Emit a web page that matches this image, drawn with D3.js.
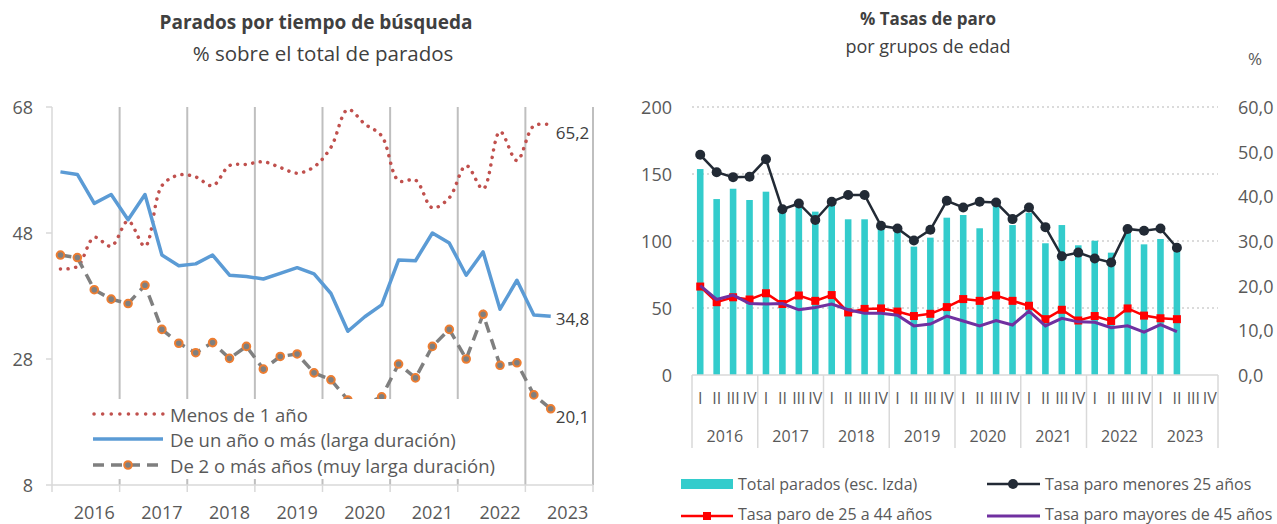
<!DOCTYPE html>
<html>
<head>
<meta charset="utf-8">
<script src="https://cdnjs.cloudflare.com/ajax/libs/d3/7.8.5/d3.min.js"></script>
<style>
  body { margin: 0; background: #fff; }
  svg text { font-family: "Open Sans", "Noto Sans", sans-serif; }
</style>
</head>
<body>
<svg id="chart" width="1277" height="524"></svg>
<script>
// ---- datos comunes ----
var years = [2016, 2017, 2018, 2019, 2020, 2021, 2022, 2023]
var quarterNames = ['I', 'II', 'III', 'IV']
var quarters = []
years.forEach(function(y){ quarterNames.forEach(function(q){ quarters.push(y + '-' + q) }) })
var dataQuarters = quarters.slice(0, 30)   // 2016-I .. 2023-II

// ---- grafico izquierdo: parados por tiempo de busqueda (%) ----
var leftTicks = [8, 28, 48, 68]
var menosUnAno = [42.3,42.7,47.3,45.9,49.9,45.9,55.5,57.2,56.9,55.5,58.7,58.9,59.3,58.4,57.5,58.5,
                  61.6,67.6,65.3,63.4,56.3,56.4,52.0,53.6,58.7,55.0,64.1,59.5,65.0,65.2]
var unAnoOMas = [57.7,57.3,52.7,54.1,50.1,54.1,44.5,42.8,43.1,44.5,41.3,41.1,40.7,41.6,42.5,41.5,
                 38.4,32.4,34.7,36.6,43.7,43.6,48.0,46.4,41.3,45.0,35.9,40.5,35.0,34.8]
var dosOMas = [44.5,44.1,39.0,37.5,36.8,39.7,32.7,30.5,29.0,30.6,28.1,30.0,26.4,28.4,28.8,25.8,
               24.7,21.5,20.8,22.0,27.2,25.0,30.0,32.7,28.0,35.1,27.0,27.4,22.3,20.1]

// ---- grafico derecho: tasas de paro por edad ----
var totalParados = [153.7,131.3,139.0,130.6,136.8,122.0,125.6,121.9,126.9,116.2,116.2,111.5,106.9,95.8,102.5,117.4,
                    119.4,109.5,126.4,111.9,121.1,98.3,111.9,96.8,100.2,91.3,108.2,97.5,101.5,92.0]
var menores25 = [49.3,45.4,44.3,44.4,48.3,37.1,38.4,34.7,38.8,40.3,40.3,33.4,32.8,30.1,32.5,39.0,
                 37.5,38.8,38.6,34.9,37.5,33.1,26.6,27.4,26.1,25.2,32.7,32.3,32.8,28.5]
var de25a44 = [19.8,16.3,17.4,16.9,18.3,15.9,17.8,16.6,17.9,14.0,14.8,14.9,14.2,13.2,13.7,15.2,
               17.0,16.6,17.8,16.6,15.5,12.5,14.6,12.2,13.2,12.1,14.9,13.3,12.7,12.5]
var mayores45 = [20.0,16.9,17.9,16.0,15.9,16.0,14.6,15.1,15.9,14.6,13.8,13.8,13.4,11.0,11.4,13.2,
                 12.1,11.0,12.2,11.2,14.3,11.0,12.7,11.9,11.8,10.6,11.0,9.6,11.3,9.7]
var leftAxisTicks = [0, 50, 100, 150, 200]
var rightAxisTicks = [0, 10, 20, 30, 40, 50, 60]

var svg = d3.select('#chart')
var dark = '#404040', grey = '#595959'
var coma = function(v){ return d3.format('.1f')(v).replace('.', ',') }

/* ================= IZQUIERDA ================= */
var xL = d3.scaleBand().domain(quarters).range([52, 593])
var yL = d3.scaleLinear().domain([8, 68]).range([485, 107])
var cx = function(d, i){ return xL(dataQuarters[i]) + xL.bandwidth() / 2 }

svg.append('text').attr('x', 316).attr('y', 22).attr('text-anchor', 'middle')
   .attr('dominant-baseline', 'central').attr('font-size', 19).attr('font-weight', 'bold')
   .attr('fill', dark).text('Parados por tiempo de búsqueda')
svg.append('text').attr('x', 323).attr('y', 53).attr('text-anchor', 'middle')
   .attr('dominant-baseline', 'central').attr('font-size', 20.5)
   .attr('fill', dark).text('% sobre el total de parados')

// lineas verticales de separacion de años
var boundaries = years.map(function(y){ return xL(y + '-I') }).slice(1).concat([593])
svg.selectAll('.vgrid').data(boundaries).enter().append('line')
   .attr('x1', function(d){ return d }).attr('x2', function(d){ return d })
   .attr('y1', yL(68)).attr('y2', yL(8))
   .attr('stroke', '#bfbfbf').attr('stroke-width', 2)

// ejes
svg.append('line').attr('x1', 52).attr('x2', 52).attr('y1', yL(68)).attr('y2', yL(8))
   .attr('stroke', '#d9d9d9').attr('stroke-width', 1.5)
svg.append('line').attr('x1', 52).attr('x2', 593).attr('y1', yL(8)).attr('y2', yL(8))
   .attr('stroke', '#d9d9d9').attr('stroke-width', 1.5)
svg.selectAll('.ytickL').data(leftTicks).enter().append('line')
   .attr('x1', 46).attr('x2', 52).attr('y1', function(d){ return yL(d) }).attr('y2', function(d){ return yL(d) })
   .attr('stroke', '#d9d9d9').attr('stroke-width', 1.5)
svg.selectAll('.xtickL').data([52].concat(boundaries)).enter().append('line')
   .attr('x1', function(d){ return d }).attr('x2', function(d){ return d })
   .attr('y1', yL(8)).attr('y2', yL(8) + 7)
   .attr('stroke', '#d9d9d9').attr('stroke-width', 1.5)
svg.selectAll('.ylabL').data(leftTicks).enter().append('text')
   .attr('x', 33).attr('y', function(d){ return yL(d) }).attr('text-anchor', 'end')
   .attr('dominant-baseline', 'central').attr('font-size', 18).attr('fill', grey)
   .text(function(d){ return d })
svg.selectAll('.xlabL').data(years).enter().append('text')
   .attr('x', function(d){ return xL(d + '-III') + xL.bandwidth() / 2 }).attr('y', 512)
   .attr('text-anchor', 'middle').attr('dominant-baseline', 'central')
   .attr('font-size', 18).attr('fill', grey).text(function(d){ return d })

// series
var lineL = d3.line().x(cx).y(function(d){ return yL(d) })
svg.append('path').datum(menosUnAno)
   .attr('d', lineL.curve(d3.curveCatmullRom.alpha(0.5)))
   .attr('fill', 'none').attr('stroke', '#c0504d').attr('stroke-width', 3.5)
   .attr('stroke-linecap', 'round').attr('stroke-dasharray', '0.1 7.5')
lineL.curve(d3.curveLinear)
svg.append('path').datum(unAnoOMas).attr('d', lineL)
   .attr('fill', 'none').attr('stroke', '#5b9bd5').attr('stroke-width', 3.5).attr('stroke-linejoin', 'round')
svg.append('path').datum(dosOMas).attr('d', lineL)
   .attr('fill', 'none').attr('stroke', '#7f7f7f').attr('stroke-width', 3.5).attr('stroke-dasharray', '11 7')
svg.selectAll('.mk2').data(dosOMas).enter().append('circle')
   .attr('cx', cx).attr('cy', function(d){ return yL(d) }).attr('r', 3.8)
   .attr('fill', '#7f7f7f').attr('stroke', '#ed7d31').attr('stroke-width', 2)

// etiquetas finales
var last = dataQuarters.length - 1
var endLabels = [[menosUnAno[last], 8], [unAnoOMas[last], 2], [dosOMas[last], 8]]
svg.selectAll('.endlab').data(endLabels).enter().append('text')
   .attr('x', xL(dataQuarters[last]) + xL.bandwidth() / 2 + 5)
   .attr('y', function(d){ return yL(d[0]) + d[1] })
   .attr('dominant-baseline', 'central').attr('font-size', 17).attr('fill', dark)
   .text(function(d){ return coma(d[0]) })

// leyenda izquierda
var legL = svg.append('g')
legL.append('rect').attr('x', 86).attr('y', 399).attr('width', 420).attr('height', 80).attr('fill', '#fff')
var legRows = [
  { name: 'Menos de 1 año', y: 414 },
  { name: 'De un año o más (larga duración)', y: 439 },
  { name: 'De 2 o más años (muy larga duración)', y: 465 }
]
legL.append('line').attr('x1', 94).attr('x2', 163).attr('y1', 414).attr('y2', 414)
    .attr('stroke', '#c0504d').attr('stroke-width', 3.5).attr('stroke-linecap', 'round').attr('stroke-dasharray', '0.1 8.5')
legL.append('line').attr('x1', 93).attr('x2', 163).attr('y1', 439).attr('y2', 439)
    .attr('stroke', '#5b9bd5').attr('stroke-width', 3.5)
legL.append('line').attr('x1', 93).attr('x2', 163).attr('y1', 465).attr('y2', 465)
    .attr('stroke', '#7f7f7f').attr('stroke-width', 3.5).attr('stroke-dasharray', '11 7')
legL.append('circle').attr('cx', 128).attr('cy', 465).attr('r', 3.8)
    .attr('fill', '#7f7f7f').attr('stroke', '#ed7d31').attr('stroke-width', 2)
legL.selectAll('text').data(legRows).enter().append('text')
    .attr('x', 170).attr('y', function(d){ return d.y }).attr('dominant-baseline', 'central')
    .attr('font-size', 18.5).attr('fill', grey).text(function(d){ return d.name })

/* ================= DERECHA ================= */
var xR = d3.scaleBand().domain(quarters).range([692, 1218])
var yR = d3.scaleLinear().domain([0, 200]).range([375, 107])
var yR2 = d3.scaleLinear().domain([0, 60]).range([375, 107])
var cxR = function(d, i){ return xR(dataQuarters[i]) + xR.bandwidth() / 2 }

svg.append('text').attr('x', 928).attr('y', 18).attr('text-anchor', 'middle')
   .attr('dominant-baseline', 'central').attr('font-size', 17).attr('font-weight', 'bold')
   .attr('fill', dark).text('% Tasas de paro')
svg.append('text').attr('x', 928).attr('y', 46).attr('text-anchor', 'middle')
   .attr('dominant-baseline', 'central').attr('font-size', 18)
   .attr('fill', dark).text('por grupos de edad')
svg.append('text').attr('x', 1255).attr('y', 58).attr('text-anchor', 'middle')
   .attr('dominant-baseline', 'central').attr('font-size', 17).attr('fill', grey).text('%')

// rejilla punteada
svg.selectAll('.hgrid').data(leftAxisTicks.slice(1)).enter().append('line')
   .attr('x1', 692).attr('x2', 1218)
   .attr('y1', function(d){ return yR(d) }).attr('y2', function(d){ return yR(d) })
   .attr('stroke', '#d0d0d0').attr('stroke-width', 1.5).attr('stroke-dasharray', '2 3')

svg.selectAll('.ylabR1').data(leftAxisTicks).enter().append('text')
   .attr('x', 672).attr('y', function(d){ return yR(d) }).attr('text-anchor', 'end')
   .attr('dominant-baseline', 'central').attr('font-size', 18).attr('fill', grey)
   .text(function(d){ return d })
svg.selectAll('.ylabR2').data(rightAxisTicks).enter().append('text')
   .attr('x', 1238).attr('y', function(d){ return yR2(d) })
   .attr('dominant-baseline', 'central').attr('font-size', 18).attr('fill', grey)
   .text(function(d){ return coma(d) })

// barras
var barW = xR.bandwidth() * 0.4
svg.selectAll('.bar').data(totalParados).enter().append('rect')
   .attr('x', function(d, i){ return cxR(d, i) - barW / 2 })
   .attr('y', function(d){ return yR(d) })
   .attr('width', barW).attr('height', function(d){ return yR(0) - yR(d) })
   .attr('fill', '#33cccc')

// eje categorias multinivel
svg.append('line').attr('x1', 692).attr('x2', 1218).attr('y1', 375).attr('y2', 375)
   .attr('stroke', '#d9d9d9').attr('stroke-width', 1.5)
var sepR = years.map(function(y){ return xR(y + '-I') }).concat([1218])
svg.selectAll('.sepR').data(sepR).enter().append('line')
   .attr('x1', function(d){ return d }).attr('x2', function(d){ return d })
   .attr('y1', 375).attr('y2', 448)
   .attr('stroke', '#d9d9d9').attr('stroke-width', 1.5)
svg.selectAll('.qlab').data(quarters).enter().append('text')
   .attr('x', function(d){ return xR(d) + xR.bandwidth() / 2 }).attr('y', 398)
   .attr('text-anchor', 'middle').attr('dominant-baseline', 'central')
   .attr('font-size', 16).attr('fill', grey).text(function(d){ return d.split('-')[1] })
svg.selectAll('.ylabR').data(years).enter().append('text')
   .attr('x', function(d){ return xR(d + '-I') + xR.bandwidth() * 2 }).attr('y', 436)
   .attr('text-anchor', 'middle').attr('dominant-baseline', 'central')
   .attr('font-size', 16).attr('fill', grey).text(function(d){ return d })

// lineas de tasas
var lineR = d3.line().x(cxR).y(function(d){ return yR2(d) })
svg.append('path').datum(menores25).attr('d', lineR)
   .attr('fill', 'none').attr('stroke', '#222a35').attr('stroke-width', 2.5)
svg.selectAll('.mkB').data(menores25).enter().append('circle')
   .attr('cx', cxR).attr('cy', function(d){ return yR2(d) }).attr('r', 5).attr('fill', '#222a35')
svg.append('path').datum(de25a44).attr('d', lineR)
   .attr('fill', 'none').attr('stroke', '#ff0000').attr('stroke-width', 2.5)
svg.selectAll('.mkR').data(de25a44).enter().append('rect')
   .attr('x', function(d, i){ return cxR(d, i) - 4 }).attr('y', function(d){ return yR2(d) - 4 })
   .attr('width', 8).attr('height', 8).attr('fill', '#ff0000')
svg.append('path').datum(mayores45).attr('d', lineR)
   .attr('fill', 'none').attr('stroke', '#7030a0').attr('stroke-width', 3)

// leyenda derecha
var legR = svg.append('g')
legR.append('rect').attr('x', 681).attr('y', 479).attr('width', 52).attr('height', 10).attr('fill', '#33cccc')
legR.append('line').attr('x1', 987).attr('x2', 1040).attr('y1', 484).attr('y2', 484).attr('stroke', '#222a35').attr('stroke-width', 2.5)
legR.append('circle').attr('cx', 1013).attr('cy', 484).attr('r', 5).attr('fill', '#222a35')
legR.append('line').attr('x1', 681).attr('x2', 733).attr('y1', 516).attr('y2', 516).attr('stroke', '#ff0000').attr('stroke-width', 2.5)
legR.append('rect').attr('x', 703).attr('y', 512).attr('width', 8).attr('height', 8).attr('fill', '#ff0000')
legR.append('line').attr('x1', 987).attr('x2', 1040).attr('y1', 516).attr('y2', 516).attr('stroke', '#7030a0').attr('stroke-width', 3)
var legRText = [
  { name: 'Total parados (esc. Izda)', x: 738, y: 484 },
  { name: 'Tasa paro menores 25 años', x: 1045, y: 484 },
  { name: 'Tasa paro de 25 a 44 años', x: 738, y: 514 },
  { name: 'Tasa paro mayores de 45 años', x: 1045, y: 514 }
]
legR.selectAll('text').data(legRText).enter().append('text')
    .attr('x', function(d){ return d.x }).attr('y', function(d){ return d.y })
    .attr('dominant-baseline', 'central').attr('font-size', 16).attr('fill', grey)
    .text(function(d){ return d.name })
</script>
</body>
</html>
